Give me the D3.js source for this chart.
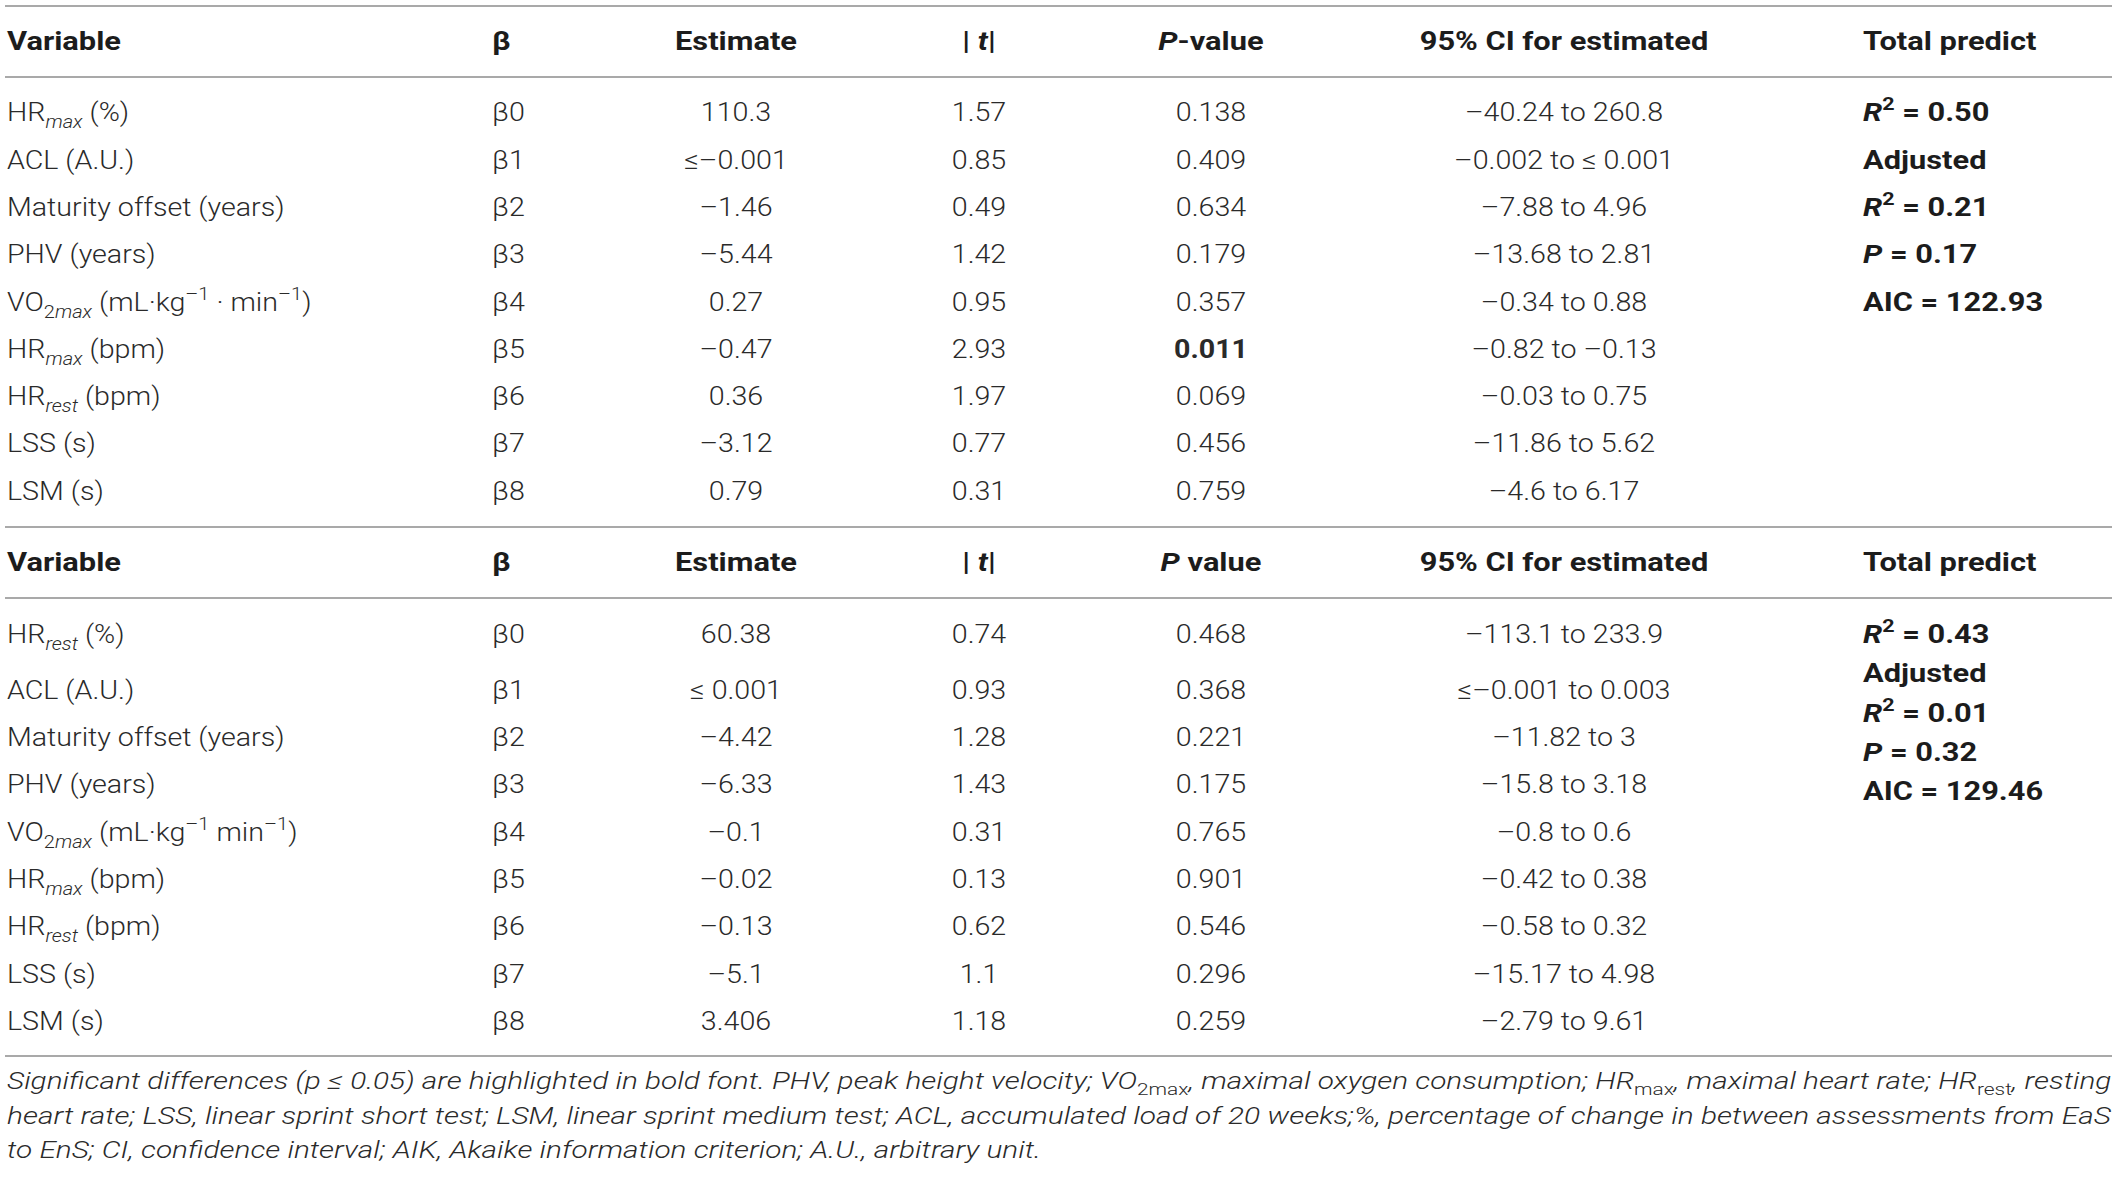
<!DOCTYPE html>
<html>
<head>
<meta charset="utf-8">
<script src="https://cdn.jsdelivr.net/npm/d3@7"></script>
<style>
  html, body { margin: 0; padding: 0; background: #fff; }
  svg { display: block; }
</style>
</head>
<body>
<svg id="chart" width="2118" height="1179"></svg>
<script>
// markup: *italic*, #bold#, _{italic sub}, _[roman sub], ^[sup]
var columns = ["variable", "beta", "estimate", "t", "p", "ci", "total"];

var headers1 = ["Variable", "β", "Estimate", "| *t*|", "*P*-value", "95% CI for estimated", "Total predict"];
var headers2 = ["Variable", "β", "Estimate", "| *t*|", "*P* value", "95% CI for estimated", "Total predict"];

var betas = ["β0", "β1", "β2", "β3", "β4", "β5", "β6", "β7", "β8"];

var variables1 = ["HR_{max} (%)", "ACL (A.U.)", "Maturity offset (years)", "PHV (years)",
  "VO_[2]_{max} (mL·kg^[–1] · min^[–1])", "HR_{max} (bpm)", "HR_{rest} (bpm)", "LSS (s)", "LSM (s)"];
var estimates1 = ["110.3", "≤–0.001", "–1.46", "–5.44", "0.27", "–0.47", "0.36", "–3.12", "0.79"];
var tValues1 = ["1.57", "0.85", "0.49", "1.42", "0.95", "2.93", "1.97", "0.77", "0.31"];
var pValues1 = ["0.138", "0.409", "0.634", "0.179", "0.357", "#0.011#", "0.069", "0.456", "0.759"];
var ci1 = ["–40.24 to 260.8", "–0.002 to ≤ 0.001", "–7.88 to 4.96", "–13.68 to 2.81", "–0.34 to 0.88",
  "–0.82 to –0.13", "–0.03 to 0.75", "–11.86 to 5.62", "–4.6 to 6.17"];
var totals1 = ["*R*^[2] = 0.50", "Adjusted", "*R*^[2] = 0.21", "*P* = 0.17", "AIC = 122.93"];

var variables2 = ["HR_{rest} (%)", "ACL (A.U.)", "Maturity offset (years)", "PHV (years)",
  "VO_[2]_{max} (mL·kg^[–1] min^[–1])", "HR_{max} (bpm)", "HR_{rest} (bpm)", "LSS (s)", "LSM (s)"];
var estimates2 = ["60.38", "≤ 0.001", "–4.42", "–6.33", "–0.1", "–0.02", "–0.13", "–5.1", "3.406"];
var tValues2 = ["0.74", "0.93", "1.28", "1.43", "0.31", "0.13", "0.62", "1.1", "1.18"];
var pValues2 = ["0.468", "0.368", "0.221", "0.175", "0.765", "0.901", "0.546", "0.296", "0.259"];
var ci2 = ["–113.1 to 233.9", "≤–0.001 to 0.003", "–11.82 to 3", "–15.8 to 3.18", "–0.8 to 0.6",
  "–0.42 to 0.38", "–0.58 to 0.32", "–15.17 to 4.98", "–2.79 to 9.61"];
var totals2 = ["*R*^[2] = 0.43", "Adjusted", "*R*^[2] = 0.01", "*P* = 0.32", "AIC = 129.46"];

var footnotes = [
  "Significant differences (p ≤ 0.05) are highlighted in bold font. PHV, peak height velocity; VO_[2max], maximal oxygen consumption; HR_[max], maximal heart rate; HR_[rest], resting",
  "heart rate; LSS, linear sprint short test; LSM, linear sprint medium test; ACL, accumulated load of 20 weeks;%, percentage of change in between assessments from EaS",
  "to EnS; CI, confidence interval; AIK, Akaike information criterion; A.U., arbitrary unit."
];

var svg = d3.select("#chart"),
    family = "Roboto, 'Liberation Sans', Arial, sans-serif",
    width = 2118,
    margin = {left: 5, right: 6};

var styles = {
  body:  {size: 26, weight: 300, color: "#2a2a2a", italic: false, bold: false},
  head:  {size: 26, weight: 700, color: "#1c1c1c", italic: false, bold: true},
  foot:  {size: 24, weight: 300, color: "#2a2a2a", italic: true, bold: false}
};

var x = d3.scaleOrdinal()
    .domain(columns)
    .range([7, 492, 736, 979, 1211, 1564, 1863]);
var anchor = d3.scaleOrdinal()
    .domain(columns)
    .range(["start", "start", "middle", "middle", "middle", "middle", "start"]);

function parse(s, base) {
  var runs = [], it = base.italic, bd = base.bold, buf = "", i = 0;
  function push(t, o) {
    if (t) runs.push(Object.assign({text: t, italic: it, bold: bd, shift: null}, o || {}));
  }
  while (i < s.length) {
    var c = s[i];
    if (c === "*") { push(buf); buf = ""; it = !it; i++; }
    else if (c === "#") { push(buf); buf = ""; bd = !bd; i++; }
    else if ((c === "_" || c === "^") && (s[i + 1] === "{" || s[i + 1] === "[")) {
      push(buf); buf = "";
      var j = s.indexOf(s[i + 1] === "{" ? "}" : "]", i + 2);
      push(s.slice(i + 2, j), {shift: c === "_" ? "sub" : "sup", italic: s[i + 1] === "{"});
      i = j + 1;
    }
    else { buf += c; i++; }
  }
  push(buf);
  return runs;
}

function drawText(g, str, px, py, st, anc, sx) {
  var t = g.append("text")
      .attr("transform", "translate(" + px + "," + py + ") scale(" + (sx || 1) + ",1)")
      .attr("text-anchor", anc || "start")
      .style("font-family", family)
      .style("font-size", st.size + "px")
      .style("fill", st.color);
  var shift = 0;
  parse(str, st).forEach(function(r) {
    var target = r.shift === "sub" ? st.size * 0.27 : r.shift === "sup" ? -st.size * 0.42 : 0;
    t.append("tspan")
        .attr("dy", target - shift)
        .style("font-style", r.italic ? "italic" : "normal")
        .style("font-weight", r.bold ? 700 : st.weight)
        .style("font-size", r.shift ? (st.size * 0.7) + "px" : null)
        .text(r.text);
    shift = target;
  });
  return t;
}

function measure(str, st) {
  var t = drawText(svg, str, 0, -100, st),
      w = t.node().getComputedTextLength();
  t.remove();
  return w;
}

// horizontal compression so widths match the condensed original face
var sxBody = (267 / measure("Maturity offset (years)", styles.body) +
              206 / measure("–113.1 to 233.9", styles.body)) / 2,
    sxHead = (291 / measure("95% CI for estimated", styles.head) +
              172 / measure("Total predict", styles.head)) / 2;

function capShift(st) { return st.size * 0.36; }

function drawTable(g, headers, cols, headerY, rowY, totals, totalY) {
  headers.forEach(function(h, i) {
    var c = columns[i];
    drawText(g, h, x(c), headerY + capShift(styles.head), styles.head, anchor(c), sxHead);
  });
  cols.forEach(function(values, ci) {
    var c = columns[ci];
    values.forEach(function(v, i) {
      drawText(g, v, x(c), rowY(i) + capShift(styles.body), styles.body, anchor(c), sxBody);
    });
  });
  totals.forEach(function(v, i) {
    drawText(g, v, x("total"), totalY(i) + capShift(styles.head), styles.head, "start", sxHead);
  });
}

// rules
var rules = [6, 77, 527, 598, 1056];
svg.append("g").selectAll("line")
    .data(rules)
  .enter().append("line")
    .attr("x1", margin.left)
    .attr("x2", width - margin.right)
    .attr("y1", function(d) { return d; })
    .attr("y2", function(d) { return d; })
    .style("stroke", "#a9a9a9")
    .style("stroke-width", 2);

// upper model
var y1 = d3.scaleLinear().domain([0, 8]).range([112, 490.4]);
drawTable(svg.append("g"), headers1,
    [variables1, betas, estimates1, tValues1, pValues1, ci1],
    41, y1, totals1, y1);

// lower model: first row is taller because of the stacked fit statistics
var y2rest = d3.scaleLinear().domain([1, 8]).range([689.5, 1020.6]);
var y2 = function(i) { return i === 0 ? 633.5 : y2rest(i); };
var y2tot = d3.scaleLinear().domain([0, 4]).range([633.5, 791]);
drawTable(svg.append("g"), headers2,
    [variables2, betas, estimates2, tValues2, pValues2, ci2],
    562, y2, totals2, y2tot);

// footnote, first two lines justified to the table width
var footW = width - margin.right - 7,
    sxFoot = footW / measure(footnotes[0], styles.foot),
    footY = d3.scaleLinear().domain([0, 2]).range([1089, 1158]);
footnotes.forEach(function(f, i) {
  var sx = i < 2 ? footW / measure(f, styles.foot) : sxFoot;
  drawText(svg, f, 7, footY(i), styles.foot, "start", sx);
});
</script>
</body>
</html>
